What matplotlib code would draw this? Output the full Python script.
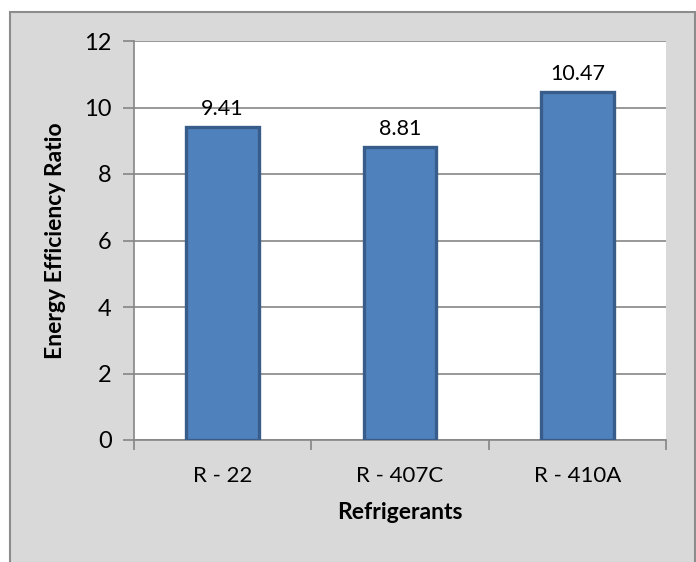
import matplotlib
matplotlib.use("Agg")
import matplotlib.pyplot as plt
from matplotlib.patches import Rectangle

refrigerants = ["R - 22", "R - 407C", "R - 410A"]
eer_values = [9.41, 8.81, 10.47]
y_ticks = [0, 2, 4, 6, 8, 10, 12]

W, H = 696, 562
plt.rcParams["font.family"] = ["Lato", "DejaVu Sans"]

fig = plt.figure(figsize=(W / 100, H / 100), dpi=100, facecolor="white")

# chart area frame, drawn beneath the axes
frame = Rectangle((10 / W, -0.05), (685 / W), (562 - 12) / H + 0.05,
                  transform=fig.transFigure, facecolor="#d9d9d9",
                  edgecolor="#8c8c8c", linewidth=1.5, zorder=-10)
fig.add_artist(frame)

left, right, top, bottom = 134, 666, 41, 440
ax = fig.add_axes([left / W, (H - bottom) / H, (right - left) / W, (bottom - top) / H])
ax.set_zorder(1)
ax.set_facecolor("white")

x = range(len(refrigerants))
bars = ax.bar(x, eer_values, width=0.41, color="#4f81bd", edgecolor="#385d8a",
              linewidth=2.4, zorder=3)

for xi, v in zip(x, eer_values):
    ax.annotate(f"{v:.2f}", (xi, v), xytext=(0, 6), textcoords="offset points",
                ha="center", va="bottom", fontsize=15.5, color="black", zorder=4)

ax.set_xlim(-0.5, len(refrigerants) - 0.5)
ax.set_ylim(0, 12)
ax.set_yticks(y_ticks)
ax.set_yticklabels([str(t) for t in y_ticks], fontsize=17)
ax.yaxis.grid(True, color="#868686", linewidth=1.2, zorder=0)
ax.set_axisbelow(True)

ax.set_xticks(list(x))
ax.set_xticklabels(refrigerants, fontsize=16)
ax.set_xticks([i - 0.5 for i in range(len(refrigerants) + 1)], minor=True)
ax.tick_params(axis="x", which="major", length=0, pad=19)
ax.tick_params(axis="x", which="minor", length=7, width=1.2, color="#868686", direction="out")
ax.tick_params(axis="y", length=8, width=1.2, color="#868686", pad=8)

for side in ("top", "right"):
    ax.spines[side].set_visible(False)
for side in ("left", "bottom"):
    ax.spines[side].set_color("#868686")
    ax.spines[side].set_linewidth(1.2)

ax.set_ylabel("Energy Efficiency Ratio", fontsize=16.5, fontweight="bold", labelpad=13)
ax.set_xlabel("Refrigerants", fontsize=16.5, fontweight="bold", labelpad=11)

fig.savefig("out.png", dpi=100, facecolor="white")
